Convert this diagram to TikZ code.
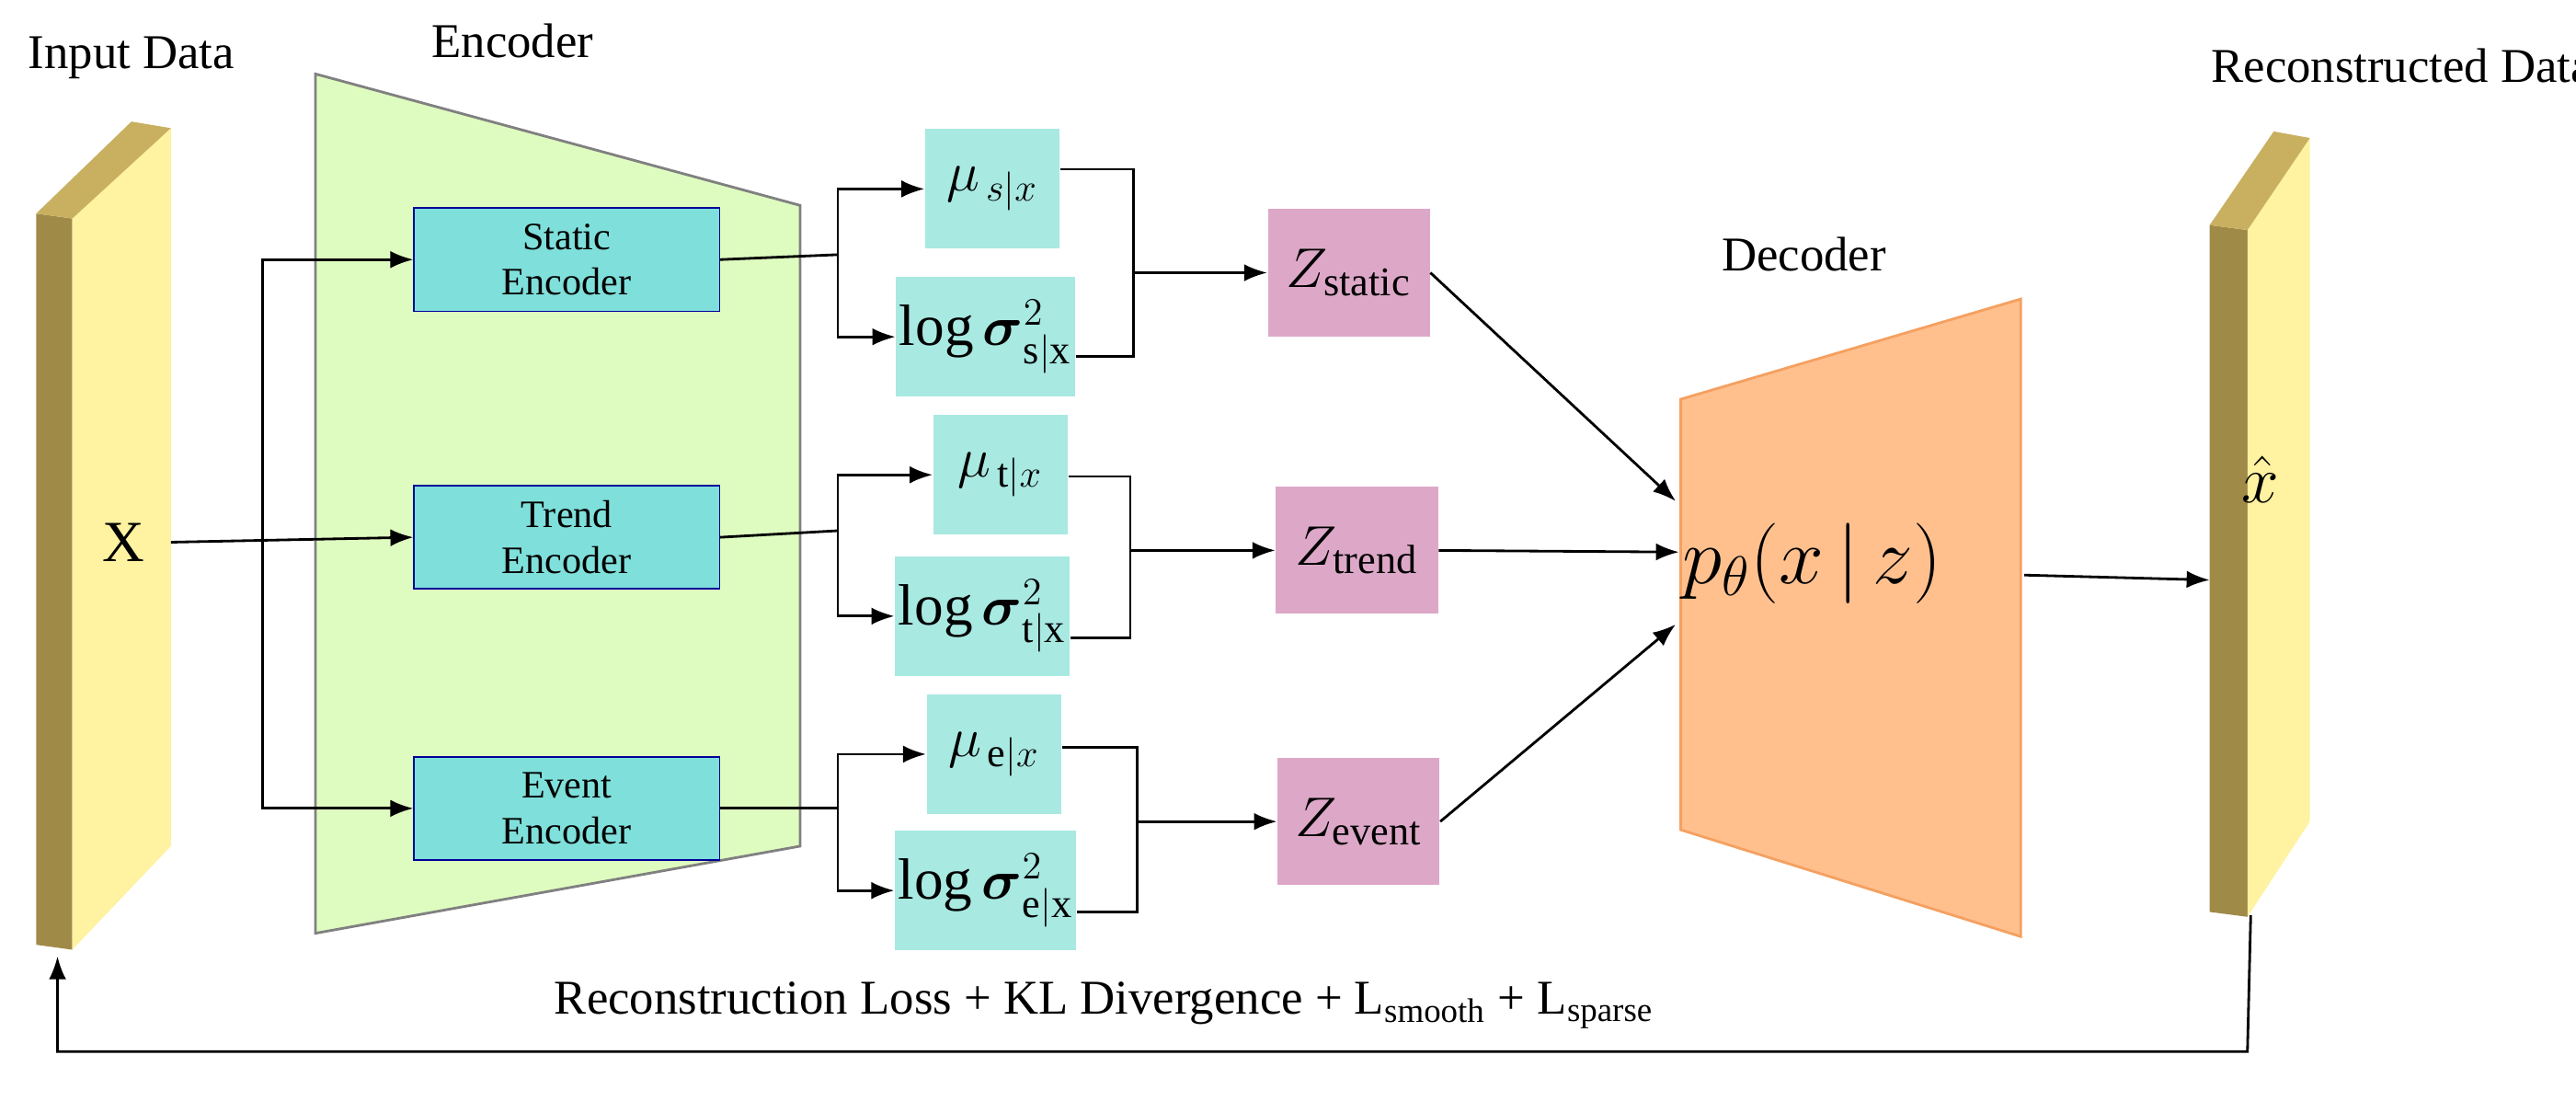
\documentclass[tikz,border=0pt]{standalone}
\usepackage{amsmath}
\usepackage{fontspec}
\setmainfont{Liberation Serif}
\usetikzlibrary{arrows.meta, positioning}
\definecolor{encfill}{HTML}{DFFCC0}
\definecolor{encbox}{HTML}{7FDFDB}
\definecolor{parbox}{HTML}{A8E9E2}
\definecolor{zbox}{HTML}{DDA8C8}
\definecolor{decfill}{HTML}{FFC08E}
\definecolor{decline}{HTML}{F5A060}
\definecolor{barlight}{HTML}{FFF2A0}
\definecolor{bardark}{HTML}{A08A48}
\definecolor{bartop}{HTML}{C8B060}
\tikzset{
  enc/.style={rectangle, draw=blue!60!black, fill=encbox, minimum width=3.32cm,
              minimum height=1.12cm, align=center, font=\fontsize{12}{14}\selectfont},
  par/.style={rectangle, fill=parbox, minimum width=1.46cm, minimum height=1.3cm,
              inner sep=1pt, font=\fontsize{18}{20}\selectfont},
  lat/.style={rectangle, fill=zbox, minimum width=1.76cm, minimum height=1.38cm,
              font=\fontsize{18}{20}\selectfont},
  arrow/.style={-{Latex[length=2.5mm]}, thick},
  line/.style={thick}
}

\begin{document}
\begin{tikzpicture}[x=0.01786cm, y=-0.01786cm]
\useasboundingbox (0,0) rectangle (1568,670);

% Input and output bars
\fill[bardark] (22,130) -- (44,133) -- (44,578) -- (22,575) -- cycle;
\fill[barlight] (44,133) -- (104,78) -- (104,515) -- (44,578) -- cycle;
\fill[bartop] (22,130) -- (80,74) -- (104,78) -- (44,133) -- cycle;
\fill[bardark] (1345,137) -- (1368,140) -- (1368,558) -- (1345,555) -- cycle;
\fill[barlight] (1368,140) -- (1406,84) -- (1406,500) -- (1368,558) -- cycle;
\fill[bartop] (1345,137) -- (1384,80) -- (1406,84) -- (1368,140) -- cycle;
\node[font=\fontsize{15}{17}\selectfont] (inlab) at (80,35) {Input Data};
\node[font=\fontsize{15}{17}\selectfont] (outlab) at (1462,40) {Reconstructed Data};
\node[font=\fontsize{18}{20}\selectfont] (X) at (75,330) {X};
\node[font=\fontsize{22}{24}\selectfont] (Xhat) at (1376,292) {$\hat{x}$};
\coordinate (inbot) at (35,582);
\coordinate (inR) at (104,330);
\coordinate (outL) at (1345,353);
\coordinate (outbot) at (1370,557);

% Encoder and decoder
\filldraw[fill=encfill, draw=gray, thick] (192,45) -- (487,125) -- (487,515) -- (192,568) -- cycle;
\node[font=\fontsize{15}{17}\selectfont] (enclab) at (312,25) {Encoder};
\filldraw[fill=decfill, draw=decline, thick] (1023,243) -- (1230,182) -- (1230,570) -- (1023,505) -- cycle;
\node[font=\fontsize{15}{17}\selectfont] (declab) at (1098,155) {Decoder};
\node[font=\fontsize{24}{26}\selectfont] (pdec) at (1103,343) {$p_\theta(x\,|\,z)$};
\coordinate (decA) at (1020,305);
\coordinate (decB) at (1022,336);
\coordinate (decC) at (1020,380);
\coordinate (decR) at (1232,350);

% Encoder blocks
\node[enc] (SE) at (345,158) {Static\\Encoder};
\node[enc] (TE) at (345,327) {Trend\\Encoder};
\node[enc] (EE) at (345,492) {Event\\Encoder};

% Mean and variance blocks
\node[par] (MuS) at (604,115) {$\mu_{\,s|x}$};
\node[par] (SgS) at (600,205) {$\log\boldsymbol{\sigma}^2_{\mathrm{s|x}}$};
\node[par] (MuT) at (609,289) {$\mu_{\,\mathrm{t}|x}$};
\node[par] (SgT) at (598,375) {$\log\boldsymbol{\sigma}^2_{\mathrm{t|x}}$};
\node[par] (MuE) at (605,459) {$\mu_{\,\mathrm{e}|x}$};
\node[par] (SgE) at (600,542) {$\log\boldsymbol{\sigma}^2_{\mathrm{e|x}}$};

% Latent blocks
\node[lat] (ZS) at (821,166) {$Z_{\mathrm{static}}$};
\node[lat] (ZT) at (826,335) {$Z_{\mathrm{trend}}$};
\node[lat] (ZE) at (827,500) {$Z_{\mathrm{event}}$};

% --- Connections ---
% X -> encoders
\draw[arrow] (inR) -- (TE.west);
\draw[arrow] (160,330) |- (SE.west);
\draw[arrow] (160,330) |- (EE.west);

% encoders -> mu, sigma
\draw[line] (SE.east) -- (510,155);
\draw[arrow] (510,155) |- (MuS.west);
\draw[arrow] (510,155) |- (SgS.west);
\draw[line] (TE.east) -- (510,323);
\draw[arrow] (510,323) |- (MuT.west);
\draw[arrow] (510,323) |- (SgT.west);
\draw[line] (EE.east) -- (510,492);
\draw[arrow] (510,492) |- (MuE.west);
\draw[arrow] (510,492) |- (SgE.west);

% mu, sigma -> Z
\draw[line] (MuS.east |- 0,103) -| (690,217) -- (SgS.east |- 0,217);
\draw[arrow] (690,166) -- (ZS.west);
\draw[line] (MuT.east |- 0,290) -| (688,388) -- (SgT.east |- 0,388);
\draw[arrow] (688,335) -- (ZT.west);
\draw[line] (MuE.east |- 0,455) -| (692,555) -- (SgE.east |- 0,555);
\draw[arrow] (692,500) -- (ZE.west);

% Z -> decoder -> output
\draw[arrow] (ZS.east) -- (decA);
\draw[arrow] (ZT.east) -- (decB);
\draw[arrow] (ZE.east) -- (decC);
\draw[arrow] (decR) -- (outL);

% loss feedback
\draw[arrow] (outbot) -- (1368,640) -- (35,640) -- (inbot);
\node[font=\fontsize{15}{17}\selectfont] (loss) at (672,612)
  {Reconstruction Loss + KL Divergence + L\textsubscript{smooth} + L\textsubscript{sparse}};

\end{tikzpicture}
\end{document}
